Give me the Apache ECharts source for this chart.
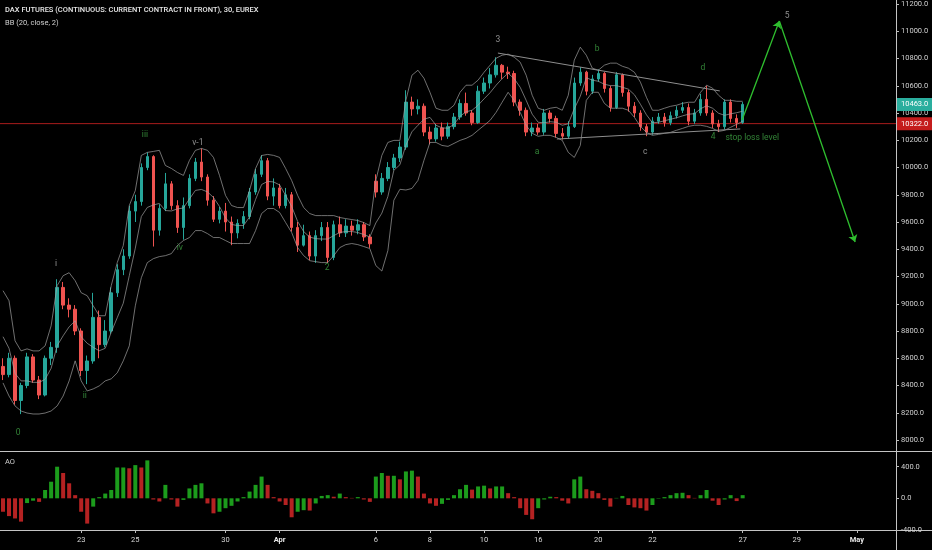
<!DOCTYPE html>
<html>
<head>
<meta charset="utf-8">
<title>DAX FUTURES 30</title>
<script src="https://cdn.jsdelivr.net/npm/echarts@6/dist/echarts.min.js"></script>
<style>
  html, body { margin: 0; padding: 0; background: #000; }
  #chart { width: 932px; height: 550px; }
</style>
</head>
<body>
<div id="chart"></div>
<script>
// 30 分钟 K 线，每根 [open, close, low, high]
const candles = [
  [8540,8480,8440,8600],[8480,8600,8460,8640],[8600,8290,8260,8620],[8290,8400,8190,8420],[8400,8610,8380,8640],
  [8610,8440,8420,8630],[8440,8330,8300,8470],[8330,8600,8320,8620],[8600,8680,8550,8720],[8680,9120,8640,9180],
  [9120,8990,8960,9160],[8990,8960,8900,9040],[8960,8800,8770,8990],[8800,8510,8470,8820],[8510,8580,8410,8620],
  [8580,8900,8560,9080],[8900,8700,8600,8950],[8700,8800,8680,8880],[8800,9080,8780,9120],[9080,9250,9050,9290],
  [9250,9350,9210,9400],[9350,9680,9330,9720],[9680,9750,9600,9800],[9750,10000,9720,10030],[10000,10080,9980,10111],
  [10080,9540,9420,10090],[9540,9700,9500,9730],[9700,9880,9680,9960],[9880,9720,9690,9900],[9720,9560,9520,9760],
  [9560,9720,9470,9780],[9720,9920,9700,9950],[9920,10040,9900,10070],[10040,9930,9900,10140],[9930,9760,9720,9950],
  [9760,9620,9600,9790],[9620,9680,9590,9710],[9680,9600,9530,9740],[9600,9520,9430,9640],[9520,9590,9480,9620],
  [9590,9640,9550,9680],[9640,9820,9620,9850],[9820,9950,9800,9990],[9950,10050,9930,10090],[10050,9790,9760,10070],
  [9790,9850,9720,9920],[9850,9720,9700,9880],[9720,9800,9700,9850],[9800,9560,9530,9820],[9560,9430,9380,9600],
  [9430,9500,9420,9580],[9500,9350,9320,9530],[9350,9500,9300,9540],[9500,9560,9460,9600],[9560,9340,9300,9600],
  [9340,9580,9320,9610],[9580,9520,9490,9640],[9520,9570,9490,9620],[9570,9540,9500,9610],[9540,9580,9510,9620],
  [9580,9490,9460,9600],[9490,9440,9410,9510],[9900,9820,9780,9950],[9820,9920,9800,9960],[9920,10000,9900,10040],
  [10000,10070,9980,10100],[10070,10150,10040,10190],[10150,10480,10130,10567],[10480,10430,10380,10520],[10430,10450,10390,10500],
  [10450,10260,10230,10470],[10260,10210,10170,10300],[10210,10290,10190,10320],[10290,10230,10200,10330],[10230,10300,10210,10330],
  [10300,10370,10280,10400],[10370,10470,10350,10500],[10470,10400,10380,10550],[10400,10330,10310,10420],[10330,10560,10320,10600],
  [10560,10620,10540,10660],[10620,10680,10580,10730],[10680,10750,10660,10809],[10750,10700,10650,10760],[10700,10690,10650,10740],
  [10690,10480,10450,10710],[10480,10420,10380,10500],[10420,10260,10230,10440],[10260,10290,10230,10330],[10290,10260,10240,10320],
  [10260,10400,10240,10430],[10400,10360,10330,10420],[10360,10250,10220,10380],[10250,10230,10205,10290],[10230,10300,10210,10340],
  [10300,10620,10290,10660],[10620,10700,10600,10736],[10700,10560,10530,10710],[10560,10650,10540,10680],[10650,10690,10630,10720],
  [10690,10580,10550,10700],[10580,10440,10410,10600],[10440,10680,10430,10700],[10680,10550,10520,10690],[10550,10450,10410,10570],
  [10450,10400,10370,10480],[10400,10300,10270,10420],[10300,10260,10230,10320],[10260,10340,10240,10370],[10340,10370,10320,10400],
  [10370,10330,10300,10400],[10330,10380,10310,10410],[10380,10420,10360,10450],[10420,10440,10400,10480],[10440,10340,10310,10470],
  [10340,10400,10320,10430],[10400,10500,10380,10540],[10500,10400,10380,10600],[10400,10320,10290,10420],[10320,10300,10260,10350],
  [10300,10480,10280,10500],[10480,10360,10330,10500],[10360,10330,10290,10390],[10330,10463,10320,10480]
];

// BB (20, close, 2)
const bbUpper = [
  9096,9022,8728,8654,8669,8654,8654,8691,8838,9133,
  9206,9228,9169,9081,9059,8985,8912,8912,9133,9302,
  9427,9721,9831,10089,10111,10118,10126,10015,9993,9964,
  9942,10052,10126,10140,10126,10074,9942,9795,9721,9706,
  9706,9831,9993,10088,10096,10089,10074,9993,9905,9795,
  9706,9662,9647,9647,9647,9647,9633,9625,9618,9611,
  9596,9574,9905,10089,10184,10199,10199,10493,10677,10714,
  10655,10552,10435,10420,10420,10457,10552,10604,10604,10641,
  10699,10751,10802,10824,10832,10810,10773,10677,10530,10435,
  10420,10435,10442,10420,10530,10788,10883,10824,10729,10714,
  10751,10766,10766,10743,10729,10699,10626,10515,10420,10420,
  10435,10449,10457,10471,10479,10479,10552,10604,10582,10530,
  10493,10493,10486,10486
];
const bbMiddle = [
  8758,8673,8489,8434,8434,8423,8423,8445,8526,8692,
  8765,8831,8875,8758,8710,8680,8655,8673,8791,8898,
  9004,9206,9408,9640,9707,9725,9736,9684,9681,9696,
  9703,9769,9832,9839,9821,9780,9714,9630,9582,9574,
  9574,9637,9765,9875,9898,9894,9872,9795,9714,9604,
  9530,9489,9478,9475,9475,9500,9523,9530,9530,9523,
  9508,9490,9593,9665,9787,9980,10020,10164,10262,10310,
  10354,10368,10310,10291,10288,10317,10376,10409,10420,10457,
  10504,10549,10604,10652,10692,10652,10589,10493,10391,10332,
  10328,10336,10332,10310,10321,10431,10523,10659,10641,10633,
  10611,10601,10601,10589,10575,10534,10464,10387,10328,10332,
  10343,10354,10365,10379,10391,10395,10431,10453,10435,10398,
  10383,10394,10402,10413
];
const bbLower = [
  8419,8323,8250,8213,8198,8191,8191,8198,8213,8250,
  8323,8434,8581,8434,8360,8375,8397,8434,8449,8493,
  8581,8691,8985,9191,9302,9331,9346,9353,9368,9427,
  9464,9486,9537,9537,9515,9486,9486,9464,9442,9442,
  9442,9442,9537,9662,9699,9699,9670,9596,9523,9412,
  9353,9316,9309,9302,9302,9353,9412,9434,9442,9434,
  9420,9405,9280,9240,9390,9760,9840,9835,9846,9905,
  10052,10184,10184,10162,10155,10177,10199,10214,10236,10273,
  10309,10346,10405,10479,10552,10493,10405,10309,10251,10229,
  10236,10236,10221,10199,10111,10074,10162,10493,10552,10552,
  10471,10435,10435,10435,10420,10368,10302,10258,10236,10243,
  10251,10258,10273,10287,10302,10310,10310,10302,10287,10265,
  10273,10295,10317,10339
];

// Awesome Oscillator
const aoValues = [
  -170,-225,-255,-295,-60,-30,-45,105,210,400,
  320,190,40,-170,-320,-105,15,60,105,390,
  390,380,420,390,480,-15,-40,170,-15,-105,
  -20,125,170,190,-65,-190,-170,-125,-95,-40,
  15,85,170,275,170,15,-40,-85,-240,-170,
  -150,-155,-65,30,40,20,60,15,5,15,
  -15,-45,275,320,285,285,240,340,350,275,
  60,-65,-95,-70,-20,40,115,170,110,150,
  160,125,150,150,65,15,-125,-210,-265,-125,
  -15,20,15,-30,-65,240,275,115,95,65,
  -20,-105,5,30,-85,-115,-125,-155,-85,-5,
  15,40,65,70,40,5,40,105,-30,-85,
  -15,40,-35,40
];

// 横轴：总槽位数（含右侧空白），日期标签所在槽位
const slotCount = 149;
const dayTicks = [[13,'23'],[22,'25'],[37,'30'],[46,'Apr'],[62,'6'],[71,'8'],[80,'10'],[89,'16'],[99,'20'],[108,'22'],[123,'27'],[132,'29'],[142,'May']];
const monthNames = ['Apr', 'May'];
const priceTicks = [8000,8200,8400,8600,8800,9000,9200,9400,9600,9800,10000,10200,10400,10600,10800,11000,11200];
const aoTicks = [-400, 0, 400];
const lastPrice = 10463;
const stopLoss = 10322;

// 波浪标注 [文字, 槽位, 价格, 颜色]
const waveLabels = [
  ['0', 2.5, 8052, 'g'], ['i', 8.8, 9292, 'w'], ['ii', 13.6, 8323, 'g'], ['iii', 23.6, 10239, 'g'],
  ['iv', 29.4, 9409, 'g'], ['v-1', 32.4, 10180, 'w'], ['2', 53.9, 9262, 'g'], ['3', 82.3, 10936, 'w'],
  ['a', 88.8, 10114, 'g'], ['b', 98.8, 10870, 'g'], ['c', 106.8, 10114, 'w'], ['d', 116.4, 10730, 'g'],
  ['4', 118.1, 10224, 'g'], ['stop loss level', 124.6, 10217, 'g'], ['5', 130.4, 11112, 'w']
];
const upperTrend = [[82.3, 10840], [119.2, 10562]];
const lowerTrend = [[92.1, 10209], [122.6, 10283]];
const forecastPath = [[122.9, 10349], [129.1, 11075], [141.7, 9453]];

const FONT = 'Roboto, "Liberation Sans", sans-serif';
const upColor = '#26a69a';
const downColor = '#ef5350';
const waveGreen = '#3fa343';
const waveGray = '#b0b0b0';
const arrowGreen = '#2fbf2f';
const frameColor = '#c4c4c4';
const stopColor = '#e02626';
const clearLine = { color: 'rgba(0,0,0,0)', width: 1 };

const cats = Array.from({ length: slotCount }, () => '');
dayTicks.forEach(([i, t]) => { cats[i] = t; });
const showDay = (index, value) => value !== '';

const aoData = aoValues.map((v, i) => ({
  value: v,
  itemStyle: { color: i > 0 && v >= aoValues[i - 1] ? '#1c9c1c' : '#b52222' }
}));

const labelData = waveLabels.map(([text, x, y, tone]) => ({
  value: [x, y],
  name: text,
  label: { color: tone === 'g' ? waveGreen : waveGray }
}));

const segments = [];
for (let i = 1; i < forecastPath.length; i++) {
  segments.push([{ coord: forecastPath[i - 1] }, { coord: forecastPath[i] }]);
}

const bbLine = (name, data) => ({
  name, type: 'line', xAxisIndex: 0, yAxisIndex: 0, data,
  showSymbol: false, silent: true,
  lineStyle: { color: '#a4a4a4', width: 0.8, opacity: 0.85 }
});

const trendLine = data => ({
  type: 'line', xAxisIndex: 2, yAxisIndex: 0, data,
  showSymbol: false, silent: true,
  lineStyle: { color: '#8e8e8e', width: 1 }
});

const priceTag = (value, bg) => ({
  show: true, position: 'end', distance: 1, formatter: () => value.toFixed(1),
  color: '#fff', backgroundColor: bg, padding: [3, 4, 2, 4], fontSize: 7.5, fontFamily: FONT
});

const chart = echarts.init(document.getElementById('chart'));

chart.setOption({
  backgroundColor: '#000',
  animation: false,
  textStyle: { fontFamily: FONT },
  title: [
    { text: 'DAX FUTURES (CONTINUOUS: CURRENT CONTRACT IN FRONT), 30, EUREX', left: 5, top: 6, padding: 0,
      textStyle: { color: '#e6e6e6', fontSize: 7.5, fontWeight: 500, fontFamily: FONT } },
    { text: 'BB (20, close, 2)', left: 5, top: 19, padding: 0,
      textStyle: { color: '#d0d0d0', fontSize: 7.5, fontWeight: 'normal', fontFamily: FONT } },
    { text: 'AO', left: 5, top: 458, padding: 0,
      textStyle: { color: '#d0d0d0', fontSize: 7.5, fontWeight: 'normal', fontFamily: FONT } }
  ],
  grid: [
    { left: 0, top: 0, width: 896, height: 452 },
    { left: 0, top: 452, width: 896, height: 78 }
  ],
  xAxis: [
    { type: 'category', gridIndex: 0, data: cats, boundaryGap: true, show: false, axisLine: { onZero: false } },
    { type: 'category', gridIndex: 1, data: cats, boundaryGap: true, position: 'bottom',
      axisLine: { show: false, onZero: false },
      axisTick: { show: true, interval: showDay, alignWithLabel: true, length: 3, lineStyle: { color: '#bdbdbd' } },
      axisLabel: {
        interval: showDay, color: '#d8d8d8', fontSize: 7.5, margin: 6,
        formatter: v => monthNames.includes(v) ? '{m|' + v + '}' : v,
        rich: { m: { fontWeight: 'bold', fontSize: 7.5, color: '#e8e8e8' } }
      },
      splitLine: { show: false } },
    { type: 'value', gridIndex: 0, min: -0.5, max: slotCount - 0.5, show: false, axisLine: { onZero: false } }
  ],
  yAxis: [
    { type: 'value', gridIndex: 0, position: 'right', min: 7912, max: 11229,
      splitLine: { show: false }, axisLine: { show: false, onZero: false },
      axisTick: { show: true, length: 3, customValues: priceTicks, lineStyle: { color: '#bdbdbd' } },
      axisLabel: { customValues: priceTicks, formatter: v => v.toFixed(1), color: '#d0d0d0', fontSize: 7.5, margin: 5 } },
    { type: 'value', gridIndex: 1, position: 'right', min: -401, max: 586,
      splitLine: { show: false }, axisLine: { show: false, onZero: false },
      axisTick: { show: true, length: 3, customValues: aoTicks, lineStyle: { color: '#bdbdbd' } },
      axisLabel: { customValues: aoTicks, formatter: v => v.toFixed(1), color: '#d0d0d0', fontSize: 7.5, margin: 5 } }
  ],
  graphic: [
    { type: 'line', silent: true, shape: { x1: 0, y1: 451.5, x2: 932, y2: 451.5 }, style: { stroke: frameColor, lineWidth: 1 } },
    { type: 'line', silent: true, shape: { x1: 0, y1: 530.5, x2: 932, y2: 530.5 }, style: { stroke: frameColor, lineWidth: 1 } },
    { type: 'line', silent: true, shape: { x1: 896.5, y1: 0, x2: 896.5, y2: 550 }, style: { stroke: frameColor, lineWidth: 1 } }
  ],
  series: [
    {
      // 止损水平线，横跨整个价格区
      name: 'stop loss', type: 'line', xAxisIndex: 2, yAxisIndex: 0,
      data: [[-0.5, stopLoss], [slotCount - 0.5, stopLoss]],
      showSymbol: false, silent: true, z: 1, color: stopColor,
      lineStyle: { color: stopColor, width: 1, opacity: 0.75 }
    },
    {
      name: 'FDAX', type: 'candlestick', xAxisIndex: 0, yAxisIndex: 0, data: candles,
      barWidth: 3,
      itemStyle: { color: upColor, color0: downColor, borderColor: upColor, borderColor0: downColor, borderWidth: 1 },
      markLine: {
        silent: true, symbol: 'none', animation: false,
        data: [
          { yAxis: stopLoss, lineStyle: clearLine, label: priceTag(stopLoss, '#c41c1c') },
          { yAxis: lastPrice, lineStyle: clearLine, label: priceTag(lastPrice, '#2aae9e') }
        ]
      }
    },
    bbLine('BB upper', bbUpper),
    bbLine('BB basis', bbMiddle),
    bbLine('BB lower', bbLower),
    trendLine(upperTrend),
    trendLine(lowerTrend),
    {
      name: 'waves', type: 'scatter', xAxisIndex: 2, yAxisIndex: 0, data: labelData,
      symbolSize: 1, itemStyle: { color: 'rgba(0,0,0,0)' }, silent: true,
      label: { show: true, position: 'inside', formatter: p => p.name, fontSize: 8.5, fontFamily: FONT },
      markLine: {
        silent: true, symbol: ['none', 'arrow'], symbolSize: 7, animation: false,
        lineStyle: { color: arrowGreen, width: 1.3, type: 'solid' },
        label: { show: false },
        data: segments
      }
    },
    {
      name: 'AO', type: 'bar', xAxisIndex: 1, yAxisIndex: 1, data: aoData,
      barWidth: 4, silent: true
    }
  ]
});
</script>
</body>
</html>
